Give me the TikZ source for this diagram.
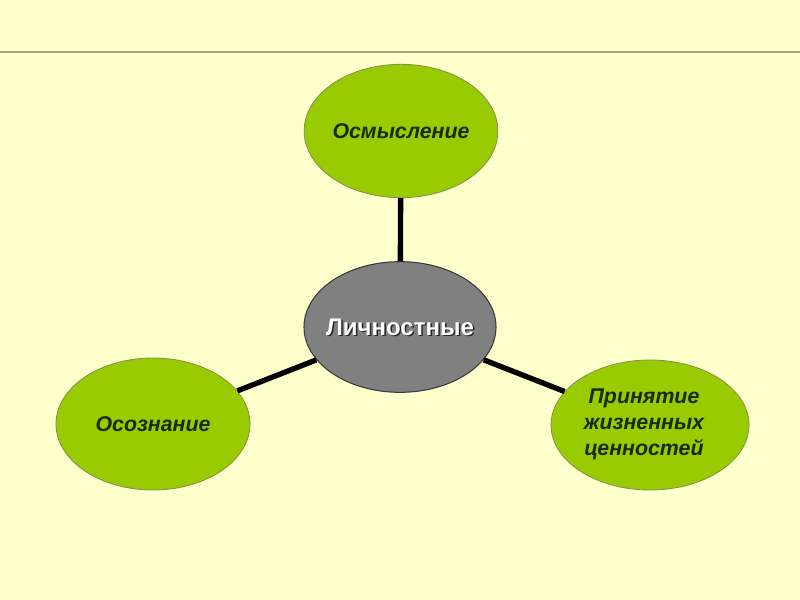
\documentclass[tikz,border=0pt]{standalone}
\usepackage{fontspec}
\setmainfont{Liberation Sans}
\usetikzlibrary{shapes.geometric}
\definecolor{bg}{HTML}{FFFFCC}
\definecolor{leaf}{HTML}{99CC00}
\definecolor{leafrim}{HTML}{7F8F50}
\definecolor{hub}{HTML}{808080}
\definecolor{hubrim}{HTML}{3A3A3A}
\definecolor{ink}{HTML}{1A2A0A}
\definecolor{rule}{HTML}{A8A088}
\tikzset{
  leafnode/.style={ellipse, fill=leaf, draw=leafrim, line width=0.6pt, inner sep=0pt,
    text=ink, align=center, font=\fontsize{16}{19.5}\selectfont\bfseries\itshape},
  hubnode/.style={ellipse, fill=hub, draw=hubrim, line width=0.8pt, inner sep=0pt,
    minimum width=144pt, minimum height=98pt},
  hubtext/.style={font=\fontsize{18}{22}\selectfont\bfseries, inner sep=0pt},
  link/.style={line width=4pt, draw=black}
}
\begin{document}
\begin{tikzpicture}[x=0.75pt,y=-0.75pt]
\fill[bg] (0,0) rectangle (800,600);
\useasboundingbox (0,0) rectangle (800,600);
\coordinate (ruleL) at (0,52);
\coordinate (ruleR) at (800,52);
\draw[rule, line width=1.5pt] (ruleL) -- (ruleR);
\node[hubnode] (hub) at (400,327) {};
\node[leafnode, minimum width=144pt, minimum height=100pt] (top) at (401,131) {Осмысление};
\node[leafnode, minimum width=145.5pt, minimum height=99pt] (left) at (153,424) {Осознание};
\node[leafnode, minimum width=148.5pt, minimum height=97.5pt] (right) at (650,425) {};
\node[leafnode, draw=none, fill=none, ellipse=false, shape=rectangle] (righttext) at (644,424) {Принятие\\жизненных\\ценностей};
\draw[link] (hub) -- (top);
\draw[link] (hub) -- (left);
\draw[link] (hub) -- (right);
\node[hubtext, text=black!85] (hubshadow) at (401.5,328.5) {Личностные};
\node[hubtext, text=white] (hublabel) at (400,327) {Личностные};
\end{tikzpicture}
\end{document}
